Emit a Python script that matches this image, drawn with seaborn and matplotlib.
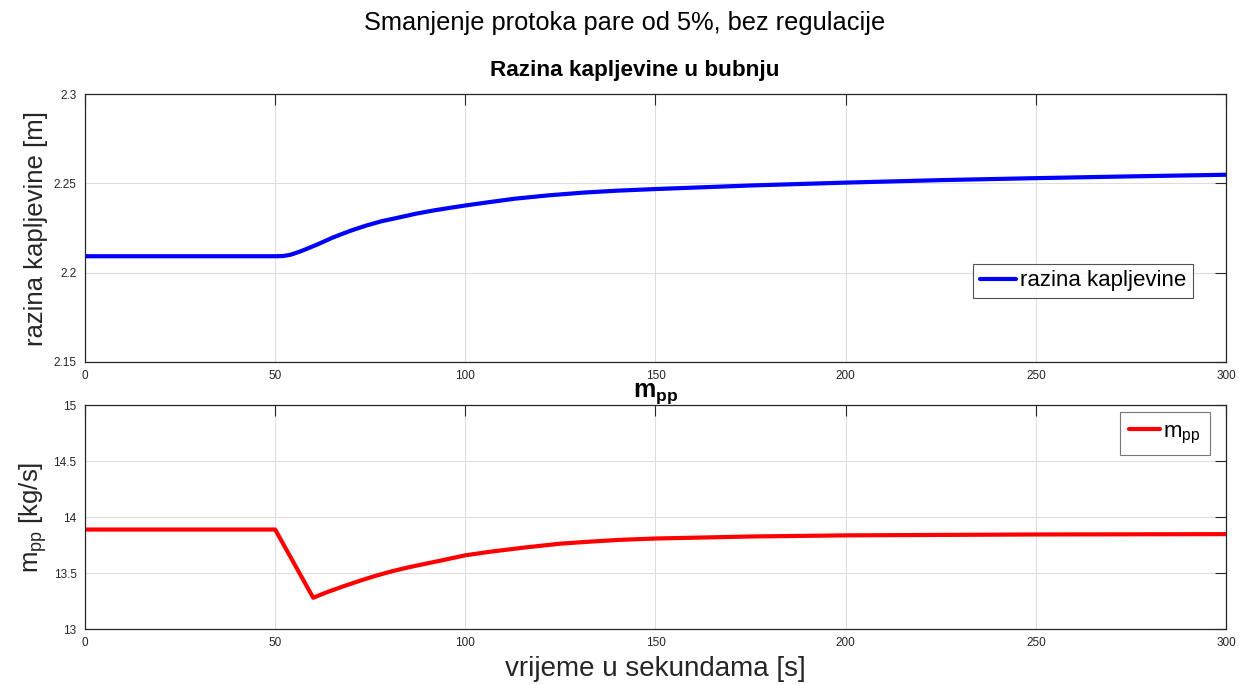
import numpy as np
import pandas as pd
import matplotlib
matplotlib.use('Agg')
import matplotlib.pyplot as plt
import seaborn as sns

# razina kapljevine u bubnju [m]
t_razina = [0, 50, 52, 54, 56.5, 58.5, 61, 63, 65.3, 68, 70, 74, 78, 83, 87, 91.6, 96, 100, 105,
            113, 122, 131, 140, 150, 175, 200, 225, 250, 275, 300]
razina = [2.2092, 2.2092, 2.2093, 2.2100, 2.2118, 2.2135, 2.2157, 2.2176, 2.2198, 2.2220, 2.2236,
          2.2264, 2.2288, 2.2311, 2.2330, 2.2348, 2.2363, 2.2376, 2.2391, 2.2414, 2.2433, 2.2448,
          2.2459, 2.2468, 2.2488, 2.2504, 2.2518, 2.2529, 2.2539, 2.2548]

# protok pare m_pp [kg/s]
t_mpp = [0, 50, 60, 63.5, 68, 72.3, 76.7, 81, 85.5, 90, 94, 100, 107, 116, 125, 131, 140, 150,
         175, 200, 250, 300]
mpp = [13.888, 13.888, 13.279, 13.327, 13.382, 13.431, 13.478, 13.518, 13.554, 13.586, 13.614,
       13.658, 13.692, 13.729, 13.762, 13.776, 13.795, 13.808, 13.826, 13.836, 13.844, 13.847]

x_ticks = [0, 50, 100, 150, 200, 250, 300]
y_ticks_gore = [2.15, 2.2, 2.25, 2.3]
y_labels_gore = ['2.15', '2.2', '2.25', '2.3']
y_ticks_dolje = [13, 13.5, 14, 14.5, 15]
y_labels_dolje = ['13', '13.5', '14', '14.5', '15']

sns.set_theme(style='whitegrid')
plt.rcParams['font.family'] = ['Liberation Sans', 'DejaVu Sans']
plt.rcParams['mathtext.fontset'] = 'custom'
plt.rcParams['mathtext.rm'] = 'Liberation Sans'
plt.rcParams['mathtext.it'] = 'Liberation Sans:italic'
plt.rcParams['mathtext.bf'] = 'Liberation Sans:bold'

TAMNO = '#262626'

fig = plt.figure(figsize=(12.39, 6.85), dpi=100)
fig.patch.set_facecolor('white')
ax1 = fig.add_axes([85 / 1239, 1 - 362 / 685, 1141 / 1239, 268 / 685])
ax2 = fig.add_axes([85 / 1239, 1 - 629 / 685, 1141 / 1239, 224 / 685])

df1 = pd.DataFrame({'t': t_razina, 'razina': razina})
df2 = pd.DataFrame({'t': t_mpp, 'mpp': mpp})

sns.lineplot(data=df1, x='t', y='razina', ax=ax1, color='#0000ff', linewidth=3,
             label='razina kapljevine')
sns.lineplot(data=df2, x='t', y='mpp', ax=ax2, color='#ff0000', linewidth=3,
             label=r'm$_{\mathrm{pp}}$')


def uredi_os(ax, yt, yl, ylim):
    ax.set_facecolor('white')
    ax.set_xlim(0, 300)
    ax.set_ylim(*ylim)
    ax.set_xticks(x_ticks)
    ax.set_xticklabels([str(v) for v in x_ticks])
    ax.set_yticks(yt)
    ax.set_yticklabels(yl)
    ax.grid(True, color='#dedede', linewidth=0.8)
    ax.tick_params(axis='both', which='both', direction='in', length=8, width=0.8,
                   colors=TAMNO, labelsize=8.5, top=True, right=True, pad=6)
    for s in ax.spines.values():
        s.set_color(TAMNO)
        s.set_linewidth(0.9)
        s.set_visible(True)


uredi_os(ax1, y_ticks_gore, y_labels_gore, (2.15, 2.3))
uredi_os(ax2, y_ticks_dolje, y_labels_dolje, (13, 15))

ax1.set_xlabel('')
ax1.set_ylabel('razina kapljevine [m]', fontsize=18.5, color=TAMNO, labelpad=4)
ax2.set_xlabel('vrijeme u sekundama [s]', fontsize=20, color=TAMNO, labelpad=5)
ax2.set_ylabel(r'm$_{\mathrm{pp}}$ [kg/s]', fontsize=18.5, color=TAMNO, labelpad=3)

ax1.set_title('Razina kapljevine u bubnju', fontsize=16.2, fontweight='bold', pad=13,
              x=(634.5 - 85) / 1141, color='black')
ax2.set_title(r'$\mathbf{m_{pp}}$', fontsize=18, pad=6, color='black')

fig.suptitle('Smanjenje protoka pare od 5%, bez regulacije', fontsize=18.3,
             x=625 / 1239, y=1 - 23 / 685, va='center', color='black')

leg1 = ax1.legend(loc='lower right', bbox_to_anchor=(0.971, 0.239), fontsize=16,
                  fancybox=False, frameon=True, handlelength=1.6, handletextpad=0.2,
                  borderpad=0.3, borderaxespad=0)
leg1.get_frame().set_edgecolor(TAMNO)
leg1.get_frame().set_linewidth(0.8)
leg2 = ax2.legend(loc='upper right', bbox_to_anchor=(0.986, 0.969), fontsize=16,
                  fancybox=False, frameon=True, handlelength=1.4, handletextpad=0.15,
                  borderpad=0.42, borderaxespad=0)
leg2.get_frame().set_edgecolor('#555555')
leg2.get_frame().set_linewidth(0.8)
for lg in (leg1, leg2):
    for txt in lg.get_texts():
        txt.set_color('black')

fig.savefig('out.png', dpi=100, facecolor='white')
plt.close(fig)
